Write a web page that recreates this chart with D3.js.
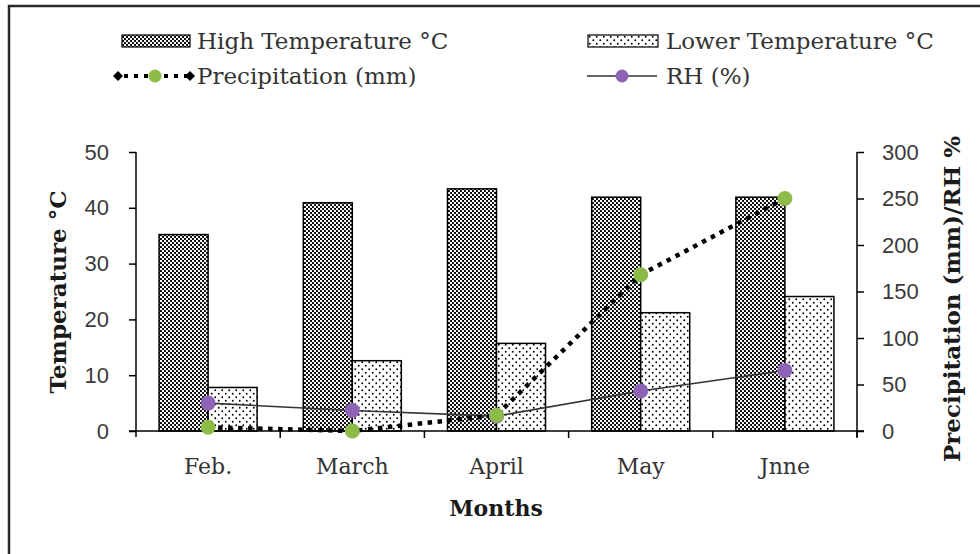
<!DOCTYPE html>
<html><head><meta charset="utf-8">
<script src="https://cdn.jsdelivr.net/npm/d3@7"></script>
<style>body{margin:0;background:#fff}svg{display:block}</style>
</head><body>
<svg id="c" width="980" height="554"></svg>
<script>
const months = ["Feb.", "March", "April", "May", "Jnne"];
const highTemp = [35.2, 40.9, 43.4, 41.9, 41.9];
const lowTemp = [7.8, 12.6, 15.7, 21.2, 24.1];
const precipitation = [4, 0, 17, 168, 250];
const rh = [30, 22, 16, 43, 65];
const leftTicks = [0, 10, 20, 30, 40, 50];
const rightTicks = [0, 50, 100, 150, 200, 250, 300];

const svg = d3.select("#c");
const serif = "'DejaVu Serif', serif";
const sans = "'Liberation Sans', Arial, sans-serif";

// patterns
const defs = svg.append("defs");
const ph = defs.append("pattern").attr("id","pHigh").attr("patternUnits","userSpaceOnUse").attr("width",4).attr("height",4);
ph.append("rect").attr("width",4).attr("height",4).attr("fill","#000");
ph.append("circle").attr("cx",1).attr("cy",1).attr("r",1.2).attr("fill","#fff");
ph.append("circle").attr("cx",3).attr("cy",3).attr("r",1.2).attr("fill","#fff");
const pl = defs.append("pattern").attr("id","pLow").attr("patternUnits","userSpaceOnUse").attr("width",7).attr("height",7);
pl.append("rect").attr("width",7).attr("height",7).attr("fill","#fff");
pl.append("circle").attr("cx",1.75).attr("cy",1.75).attr("r",0.95).attr("fill","#000");
pl.append("circle").attr("cx",5.25).attr("cy",5.25).attr("r",0.95).attr("fill","#000");

// frame
svg.append("path").attr("d","M9,554V6H980").attr("fill","none").attr("stroke","#2a2a2a").attr("stroke-width",2.5);

const x = d3.scaleBand().domain(months).range([136, 857]).padding(0);
const yL = d3.scaleLinear().domain([0, 50]).range([431, 152]);
const yR = d3.scaleLinear().domain([0, 300]).range([431, 152]);
const bw = x.bandwidth() * 0.34;
const cx = d => x(d) + x.bandwidth() / 2;

// bars
svg.append("g").selectAll("rect").data(months).join("rect")
  .attr("x", d => cx(d) - bw).attr("width", bw)
  .attr("y", (d,i) => yL(highTemp[i])).attr("height", (d,i) => yL(0) - yL(highTemp[i]))
  .attr("fill","url(#pHigh)").attr("stroke","#000").attr("stroke-width",1.5);
svg.append("g").selectAll("rect").data(months).join("rect")
  .attr("x", d => cx(d)).attr("width", bw)
  .attr("y", (d,i) => yL(lowTemp[i])).attr("height", (d,i) => yL(0) - yL(lowTemp[i]))
  .attr("fill","url(#pLow)").attr("stroke","#000").attr("stroke-width",1.5);

// axes
const axL = svg.append("g").attr("transform","translate(136,0)")
  .call(d3.axisLeft(yL).tickValues(leftTicks).tickSize(7).tickPadding(20).tickSizeOuter(0));
const axR = svg.append("g").attr("transform","translate(857,0)")
  .call(d3.axisRight(yR).tickValues(rightTicks).tickSize(7).tickPadding(18).tickSizeOuter(0));
[axL, axR].forEach(a => {
  a.select(".domain").attr("stroke","#000").attr("stroke-width",1.5);
  a.selectAll(".tick line").attr("stroke","#000").attr("stroke-width",1.5);
  a.selectAll("text").attr("font-family",sans).attr("font-size",22).attr("fill","#3a3a3a");
});
axL.select(".domain").attr("d","M0,152V437");
axR.select(".domain").attr("d","M0,152V437");
const axB = svg.append("g").attr("transform","translate(0,431)")
  .call(d3.axisBottom(x).tickSize(0).tickPadding(27));
axB.select(".domain").attr("d","M129,0H864").attr("stroke","#000").attr("stroke-width",1.5);
axB.selectAll("text").attr("font-family",serif).attr("font-size",22).attr("fill","#333");
// tick marks at category boundaries
axB.selectAll(".bnd").data(months.slice(1).concat(["_end"])).join("line")
  .attr("x1", d => d === "_end" ? 857 : x(d)).attr("x2", d => d === "_end" ? 857 : x(d))
  .attr("y1",0).attr("y2",7).attr("stroke","#000").attr("stroke-width",1.5);

// lines
const lineP = d3.line().x((d,i) => cx(months[i])).y(d => yR(d));
svg.append("path").datum(rh).attr("d", lineP).attr("fill","none").attr("stroke","#333").attr("stroke-width",1.6);
svg.append("path").datum(precipitation).attr("d", lineP).attr("fill","none")
  .attr("stroke","#000").attr("stroke-width",4.5).attr("stroke-dasharray","4.5,5.5");
svg.append("g").selectAll("circle").data(rh).join("circle")
  .attr("cx",(d,i)=>cx(months[i])).attr("cy",d=>yR(d)).attr("r",7.5).attr("fill","#8E63B5");
svg.append("g").selectAll("circle").data(precipitation).join("circle")
  .attr("cx",(d,i)=>cx(months[i])).attr("cy",d=>yR(d)).attr("r",7.5).attr("fill","#8DBB48");

// axis titles
svg.append("text").attr("transform","translate(66,292) rotate(-90)").attr("text-anchor","middle")
  .attr("font-family",serif).attr("font-weight","bold").attr("font-size",23).attr("fill","#1a1a1a").text("Temperature °C");
svg.append("text").attr("transform","translate(960,299) rotate(-90)").attr("text-anchor","middle")
  .attr("font-family",serif).attr("font-weight","bold").attr("font-size",23).attr("fill","#1a1a1a").text("Precipitation  (mm)/RH %");
svg.append("text").attr("x",496).attr("y",516).attr("text-anchor","middle")
  .attr("font-family",serif).attr("font-weight","bold").attr("font-size",22).attr("fill","#1a1a1a").text("Months");

// legend
const lg = svg.append("g").attr("font-family",serif).attr("font-size",23).attr("fill","#333");
lg.append("rect").attr("x",122).attr("y",35).attr("width",68).attr("height",12).attr("fill","url(#pHigh)").attr("stroke","#000").attr("stroke-width",1.2);
lg.append("text").attr("x",197).attr("y",49).text("High Temperature °C");
lg.append("rect").attr("x",588).attr("y",35).attr("width",70).attr("height",12).attr("fill","url(#pLow)").attr("stroke","#000").attr("stroke-width",1.2);
lg.append("text").attr("x",666).attr("y",49).text("Lower Temperature °C");
// precipitation legend symbol
lg.append("line").attr("x1",118).attr("x2",192).attr("y1",76).attr("y2",76).attr("stroke","#000").attr("stroke-width",4).attr("stroke-dasharray","4,6").attr("stroke-dashoffset",-6);
[118,190].forEach(px => lg.append("path").attr("d",`M${px-5},76L${px},71L${px+5},76L${px},81Z`).attr("fill","#000"));
lg.append("circle").attr("cx",155).attr("cy",76).attr("r",6.5).attr("fill","#8DBB48");
lg.append("text").attr("x",197).attr("y",84).text("Precipitation  (mm)");
// RH legend symbol
lg.append("line").attr("x1",587).attr("x2",657).attr("y1",76).attr("y2",76).attr("stroke","#333").attr("stroke-width",1.6);
lg.append("circle").attr("cx",622).attr("cy",76).attr("r",6.5).attr("fill","#8E63B5");
lg.append("text").attr("x",666).attr("y",84).text("RH (%)");
</script>
</body></html>
